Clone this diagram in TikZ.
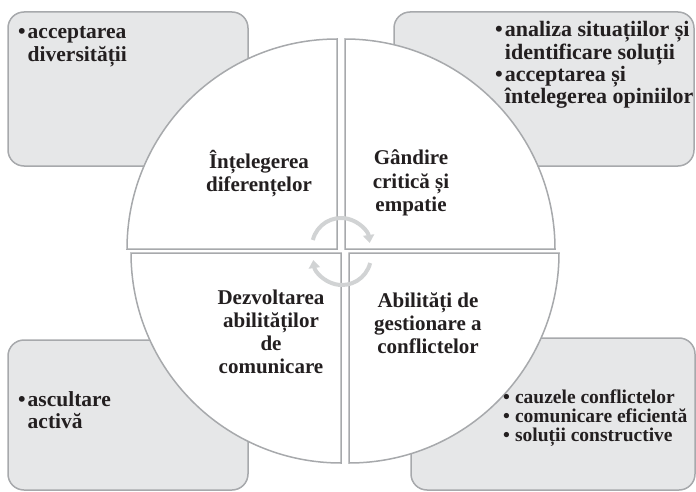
\documentclass[tikz,border=0pt]{standalone}
\usepackage{fontspec}
\setmainfont{Liberation Serif}
\usetikzlibrary{arrows.meta}
\definecolor{boxgray}{HTML}{E6E7E8}
\definecolor{linegray}{HTML}{A7A9AC}
\definecolor{cyclegray}{HTML}{D1D3D4}
\definecolor{inkblack}{HTML}{231F20}
\newcommand{\blt}{\textbullet\hspace{2pt}}
\newcommand{\bltgap}{\hphantom{\blt}}

\begin{document}
\begin{tikzpicture}[x=1pt,y=1pt,
  box/.style={draw=linegray,fill=boxgray,line width=1.5pt,rounded corners=16pt,inner sep=0pt},
  part/.style={draw=linegray,fill=white,line width=1.5pt},
  cyc/.style={draw=cyclegray,line width=4pt,-{Triangle[width=11pt,length=8pt]}},
  every node/.style={text=inkblack,inner sep=0pt}]
  \useasboundingbox (0,0) rectangle (696,491);
  \node[box,minimum width=240pt,minimum height=154pt] (divbox) at (128,402) {};
  \node[box,minimum width=300pt,minimum height=154pt] (gandbox) at (544,402) {};
  \node[box,minimum width=240pt,minimum height=150pt] (comubox) at (128,76) {};
  \node[box,minimum width=284pt,minimum height=152pt] (confbox) at (553,77) {};
  \draw[part] (337,242) -- ++(-210,0) arc[start angle=180,end angle=90,radius=210] -- cycle;
  \draw[part] (345,242) -- ++(0,210) arc[start angle=90,end angle=0,radius=210] -- cycle;
  \draw[part] (341,238) -- ++(-210,0) arc[start angle=180,end angle=270,radius=210] -- cycle;
  \draw[part] (349,238) -- ++(210,0) arc[start angle=0,end angle=-90,radius=210] -- cycle;
  \node[anchor=base,align=center,font=\fontsize{21}{23}\bfseries] (dif) at (259,300)
    {Înțelegerea\\diferențelor};
  \node[anchor=base,align=center,font=\fontsize{21}{23}\bfseries] (gand) at (411,280)
    {Gândire\\critică și\\empatie};
  \node[anchor=base,align=center,font=\fontsize{21}{22.7}\bfseries] (comu) at (271,118)
    {Dezvoltarea\\abilităților\\de\\comunicare};
  \node[anchor=base,align=center,font=\fontsize{21}{23}\bfseries] (conf) at (428,138)
    {Abilități de\\gestionare a\\conflictelor};
  \node[anchor=base west,align=left,font=\fontsize{21.5}{23}\bfseries] (divtext) at (18,429)
    {\blt acceptarea\\\bltgap diversității};
  \node[anchor=base west,align=left,font=\fontsize{22}{22.4}\bfseries] (gandtext) at (495,387)
    {\blt analiza situațiilor și\\\bltgap identificare soluții\\\blt acceptarea și\\\bltgap întelegerea opiniilor};
  \node[anchor=base west,align=left,font=\fontsize{21.5}{22}\bfseries] (comutext) at (18,63)
    {\blt ascultare\\\bltgap activă};
  \node[anchor=base west,align=left,font=\fontsize{19.5}{19}\bfseries] (conftext) at (503,50)
    {\textbullet\hspace{5pt}cauzele conflictelor\\\textbullet\hspace{5pt}comunicare eficientă\\\textbullet\hspace{5pt}soluții constructive};
  \draw[cyc] (341,244) ++(166:29) arc[start angle=166,end angle=8,radius=29];
  \draw[cyc] (342,235) ++(-14:29) arc[start angle=-14,end angle=-172,radius=29];
\end{tikzpicture}
\end{document}
